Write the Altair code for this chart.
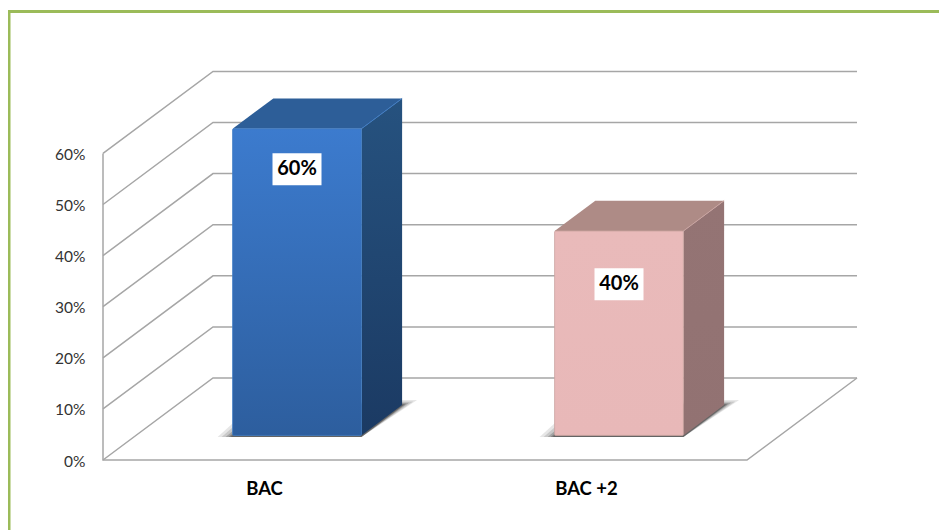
import altair as alt
import pandas as pd

# ---- values
categories = ["BAC", "BAC +2"]
values = [60, 40]
value_labels = ["60%", "40%"]
axis_ticks = [0, 10, 20, 30, 40, 50, 60]

# ---- colours / layout of the pseudo-3D scene
FRONT = [("#3C7BCE", "#2D5E9E"), ("#E9BABA", "#E8B8B8")]
SIDE = [("#26527F", "#1B3A63"), ("#947474", "#927272")]
TOP = ["#2D5E98", "#AE8B86"]
EDGE = ["#3F7CC4", "#C9A3A0"]
LABEL_DROP = [7.9, 10.4]        # label centre below the bar top, in percent
GRID = "#A6A6A6"
GREEN = "#9BBB59"

PX_X, PX_Y = 322.0, 5.11        # pixels per category / per percent
DEPTH_X, DEPTH_Y = 110 / PX_X, 82 / PX_Y   # whole floor depth in axis units
BAR_W = 0.4
D0, D1 = 0.30, 0.67             # bar's depth span on the floor

W, H = 836, 452


def px(c, d=0.0):
    return c + d * DEPTH_X


def py(v, d=0.0):
    return v + d * DEPTH_Y


x_scale = alt.Scale(domain=[0, W / PX_X], nice=False, zero=False)
y_scale = alt.Scale(domain=[0, H / PX_Y], nice=False, zero=False)
x_axis = alt.Axis(
    values=[i + 0.5 for i in range(len(categories))],
    labelExpr=f"datum.value < 1 ? '{categories[0]}' : '{categories[1]}'",
    domain=False, ticks=False, grid=False, title=None, labelPadding=19,
    labelFont="Lato", labelFontSize=18.5, labelFontWeight="bold", labelColor="#000000",
)
y_axis = alt.Axis(
    values=axis_ticks, labelExpr="datum.value + '%'",
    domain=False, ticks=False, grid=False, title=None, labelPadding=18, labelOffset=1,
    labelFont="Lato", labelFontSize=15.5, labelColor="#333333",
)


def X(field="x"):
    return alt.X(f"{field}:Q", scale=x_scale, axis=x_axis, title=None)


def Y(field="y"):
    return alt.Y(f"{field}:Q", scale=y_scale, axis=y_axis, title=None)


def vgrad(a, b):
    return alt.Gradient(gradient="linear", x1=0, x2=0, y1=0, y2=1,
                        stops=[alt.GradientStop(offset=0, color=a),
                               alt.GradientStop(offset=1, color=b)])


# ---- walls and floor
n = len(categories)
rows = []
for t in axis_ticks:
    rows += [dict(g=f"w{t}", o=0, x=px(0, 0), y=py(t, 0)),
             dict(g=f"w{t}", o=1, x=px(0, 1), y=py(t, 1)),
             dict(g=f"w{t}", o=2, x=px(n, 1), y=py(t, 1))]
rows += [dict(g="axis", o=0, x=px(0, 0), y=py(axis_ticks[-1], 0)),
         dict(g="axis", o=1, x=px(0, 0), y=py(0, 0)),
         dict(g="axis", o=2, x=px(n, 0), y=py(0, 0)),
         dict(g="axis", o=3, x=px(n, 1), y=py(0, 1))]
grid = alt.Chart(pd.DataFrame(rows)).mark_line(color=GRID, strokeWidth=1.5, clip=False).encode(
    x=X(), y=Y(), detail="g:N", order="o:Q")

layers = [grid]

# ---- bars: shadow, side, top, front
for i, (cat, val) in enumerate(zip(categories, values)):
    c = i + 0.5
    l, r = c - BAR_W / 2, c + BAR_W / 2
    # soft floor shadow, nested parallelograms
    for grow, op in [(15, 0.12), (11, 0.16), (7, 0.24), (4, 0.30), (2, 0.35)]:
        g = grow / PX_X
        sd = pd.DataFrame([
            dict(y=py(-0.3, D0), a=px(l, D0) - g, b=px(r, D0)),
            dict(y=py(0, D1 + grow / 3 / 82), a=px(l, D1) - g, b=px(r, D1 + grow / 110)),
        ])
        layers.append(alt.Chart(sd).mark_area(orient="horizontal", color="#303030", opacity=op).encode(
            y=Y(), x=X("a"), x2="b:Q"))
    side = pd.DataFrame([
        dict(x=px(r, D0), y=py(0, D0), y2=py(val, D0)),
        dict(x=px(r, D1), y=py(0, D1), y2=py(val, D1)),
    ])
    layers.append(alt.Chart(side).mark_area(color=vgrad(*SIDE[i])).encode(
        x=X(), y=Y(), y2="y2:Q"))
    top = pd.DataFrame([
        dict(y=py(val, D0), a=px(l, D0), b=px(r, D0)),
        dict(y=py(val, D1), a=px(l, D1), b=px(r, D1)),
    ])
    layers.append(alt.Chart(top).mark_area(orient="horizontal", color=TOP[i]).encode(
        y=Y(), x=X("a"), x2="b:Q"))
    # light bevel along the top's right diagonal
    bevel = pd.DataFrame([dict(x=px(r, D0), y=py(val, D0)), dict(x=px(r, D1), y=py(val, D1))])
    layers.append(alt.Chart(bevel).mark_line(color=EDGE[i], strokeWidth=1).encode(x=X(), y=Y()))
    front = pd.DataFrame([dict(x=px(l, D0), x2=px(r, D0), y=py(0, D0), y2=py(val, D0))])
    layers.append(alt.Chart(front).mark_rect(
        color=vgrad(FRONT[i][0], FRONT[i][1]), stroke=EDGE[i], strokeWidth=0.8, cornerRadius=1
    ).encode(x=X(), x2="x2:Q", y=Y(), y2="y2:Q"))
    # value label on a white box
    lab = pd.DataFrame([dict(x=px(c, D0), y=py(val - LABEL_DROP[i], D0), t=value_labels[i])])
    layers.append(alt.Chart(lab).mark_rect(width=49, height=32, color="#FFFFFF").encode(x=X(), y=Y()))
    layers.append(alt.Chart(lab).mark_text(
        font="Lato", fontSize=20, fontWeight="bold", color="#000000", align="center", baseline="middle"
    ).encode(x=X(), y=Y(), text="t:N"))

# ---- green frame of the slide
frame_l = alt.Chart(pd.DataFrame([dict(a=1)])).mark_rule(color=GREEN, strokeWidth=3, clip=False).encode(
    x=alt.value(-94), y=alt.value(2), y2=alt.value(530))
frame_t = alt.Chart(pd.DataFrame([dict(a=1)])).mark_rule(color=GREEN, strokeWidth=3, clip=False).encode(
    x=alt.value(-95), x2=alt.value(W), y=alt.value(3.5))
layers += [frame_l, frame_t]

chart = alt.layer(*layers).properties(
    width=W, height=H,
    padding={"left": 95, "top": 0, "right": 0, "bottom": 70},
    autosize=alt.AutoSizeParams(type="none"),
    background="#FFFFFF",
).configure_view(stroke=None)

chart.save("out.html", embed_options={"renderer": "svg", "actions": False})
